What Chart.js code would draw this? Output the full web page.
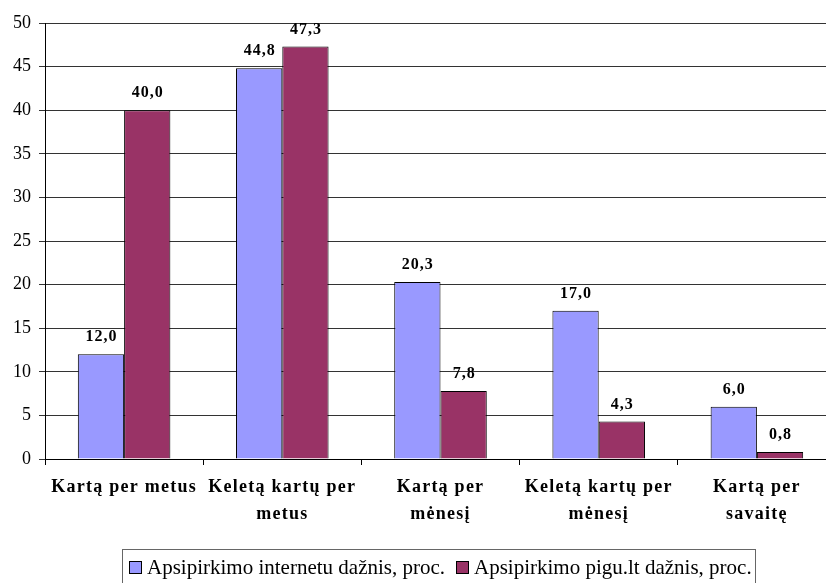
<!DOCTYPE html>
<html>
<head>
<meta charset="utf-8">
<script src="https://cdn.jsdelivr.net/npm/chart.js@4/dist/chart.umd.min.js"></script>
<style>
  html, body { margin: 0; padding: 0; background: #fff; overflow: hidden; }
  #wrap { position: relative; width: 840px; height: 583px; }
</style>
</head>
<body>
<div id="wrap"><canvas id="c" width="840" height="583"></canvas></div>
<script>
// Shopping frequency categories and shares (percent)
const categories = [
  'Kartą per metus',
  ['Keletą kartų per', 'metus'],
  ['Kartą per', 'mėnesį'],
  ['Keletą kartų per', 'mėnesį'],
  ['Kartą per', 'savaitę']
];
const internetShare = [12.0, 44.8, 20.3, 17.0, 6.0];
const piguShare = [40.0, 47.3, 7.8, 4.3, 0.8];
const seriesNames = ['Apsipirkimo internetu dažnis, proc.', 'Apsipirkimo pigu.lt dažnis, proc.'];
const yTicks = [0, 5, 10, 15, 20, 25, 30, 35, 40, 45, 50];

const SERIF = "'Times New Roman', 'Liberation Serif', 'DejaVu Serif', serif";

// Spaced-out category labels: spacing is on while the x axis labels are drawn
// (y tick labels sit on a later layer, after the bars)
const categorySpacing = {
  id: 'categorySpacing',
  beforeDraw(chart) { chart.ctx.letterSpacing = '1.25px'; },
  beforeDatasetsDraw(chart) { chart.ctx.letterSpacing = '0px'; }
};

// Value labels above each bar, decimal comma
const valueLabels = {
  id: 'valueLabels',
  afterDatasetsDraw(chart) {
    const ctx = chart.ctx;
    ctx.save();
    ctx.font = 'bold 16px ' + SERIF;
    ctx.letterSpacing = '1px';
    ctx.fillStyle = '#000';
    ctx.textAlign = 'center';
    ctx.textBaseline = 'alphabetic';
    chart.data.datasets.forEach((ds, i) => {
      chart.getDatasetMeta(i).data.forEach((bar, j) => {
        ctx.fillText(ds.data[j].toFixed(1).replace('.', ','), bar.x + 0.5, bar.y - 13);
      });
    });
    ctx.restore();
  }
};

// Boxed legend below the axis
const boxedLegend = {
  id: 'boxedLegend',
  afterDraw(chart) {
    const ctx = chart.ctx;
    ctx.save();
    ctx.letterSpacing = '0px';
    const top = 549, left = 122, right = 755;
    ctx.strokeStyle = '#666';
    ctx.lineWidth = 1;
    ctx.strokeRect(left + 0.5, top + 0.5, right - left, 40);
    ctx.font = '21px ' + SERIF;
    ctx.textBaseline = 'alphabetic';
    ctx.textAlign = 'left';
    const markerX = [129, 456];
    chart.data.datasets.forEach((ds, i) => {
      const x = markerX[i];
      ctx.fillStyle = ds.backgroundColor;
      ctx.fillRect(x, 561, 13, 13);
      ctx.strokeStyle = '#000';
      ctx.strokeRect(x + 0.5, 561.5, 12, 12);
      ctx.fillStyle = '#000';
      ctx.fillText(ds.label, x + 18, 574);
    });
    ctx.restore();
  }
};

new Chart(document.getElementById('c'), {
  type: 'bar',
  data: {
    labels: categories,
    datasets: [
      {
        label: seriesNames[0],
        data: internetShare,
        backgroundColor: '#9999FF',
        borderColor: '#000',
        borderWidth: 1,
        categoryPercentage: 0.585,
        barPercentage: 1.0
      },
      {
        label: seriesNames[1],
        data: piguShare,
        backgroundColor: '#993366',
        borderColor: '#000',
        borderWidth: 1,
        categoryPercentage: 0.585,
        barPercentage: 1.0
      }
    ]
  },
  options: {
    responsive: false,
    animation: false,
    devicePixelRatio: 1,
    layout: { padding: { top: 23, right: 4, left: 0, bottom: 0 } },
    plugins: {
      legend: { display: false },
      tooltip: { enabled: false }
    },
    scales: {
      x: {
        grid: {
          offset: true,
          drawOnChartArea: false,
          drawTicks: true,
          tickLength: 6,
          color: '#000'
        },
        border: { color: '#000', width: 1 },
        ticks: {
          color: '#000',
          font: { family: SERIF, size: 18, weight: 'bold', lineHeight: 1.5 },
          padding: 9,
          maxRotation: 0,
          autoSkip: false
        },
        afterFit(scale) { scale.height = 124; }
      },
      y: {
        min: 0,
        max: 50,
        afterBuildTicks(scale) { scale.ticks = yTicks.map(v => ({ value: v })); },
        grid: {
          color: '#333',
          lineWidth: 1,
          tickLength: 6,
          drawTicks: true
        },
        border: { color: '#000', width: 1 },
        ticks: {
          z: 1,
          color: '#000',
          font: { family: SERIF, size: 18 },
          padding: 8
        },
        afterFit(scale) { scale.width = 45; }
      }
    }
  },
  plugins: [categorySpacing, valueLabels, boxedLegend]
});
</script>
</body>
</html>
